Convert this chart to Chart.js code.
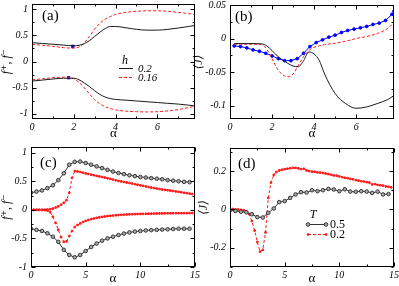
<!DOCTYPE html>
<html><head><meta charset="utf-8">
<script src="https://cdn.jsdelivr.net/npm/chart.js@4/dist/chart.umd.min.js"></script>
<style>
html,body{margin:0;padding:0;background:#fff;width:399px;height:286px;overflow:hidden}
canvas{position:absolute;left:0;top:0}
</style></head><body>
<canvas id="ca" width="399" height="286"></canvas>
<canvas id="cb" width="399" height="286"></canvas>
<canvas id="cc" width="399" height="286"></canvas>
<canvas id="cd" width="399" height="286"></canvas>
<script>
// ---------- Panel (a): f+, f- vs alpha ----------
const alphaA = [0, 0.5, 1, 1.5, 2, 2.25, 2.5, 2.75, 3, 3.25, 3.5, 3.75, 4, 4.5, 5, 5.5, 6, 6.5, 7, 7.5, 7.8];
const fPlusH02  = [0.36, 0.345, 0.33, 0.315, 0.30, 0.31, 0.34, 0.40, 0.48, 0.56, 0.63, 0.67, 0.67, 0.645, 0.615, 0.60, 0.60, 0.615, 0.64, 0.67, 0.69];
const fMinusH02 = [-0.375, -0.355, -0.335, -0.32, -0.32, -0.35, -0.41, -0.48, -0.56, -0.63, -0.68, -0.71, -0.725, -0.74, -0.755, -0.77, -0.785, -0.80, -0.815, -0.835, -0.85];
const fPlusH016  = [0.33, 0.31, 0.29, 0.265, 0.255, 0.28, 0.36, 0.48, 0.62, 0.73, 0.81, 0.86, 0.90, 0.94, 0.96, 0.97, 0.97, 0.96, 0.94, 0.915, 0.90];
const fMinusH016 = [-0.35, -0.33, -0.31, -0.30, -0.33, -0.40, -0.50, -0.62, -0.73, -0.81, -0.865, -0.90, -0.925, -0.95, -0.96, -0.965, -0.96, -0.945, -0.92, -0.88, -0.855];
const markAlphaA = [1.95, 1.75];
const markValA   = [0.29, -0.31];
const legendA = ['0.2', '0.16'];

// ---------- Panel (b): <J> vs alpha ----------
const alphaB = [0.2, 0.5, 1, 1.5, 1.75, 2, 2.25, 2.5, 2.75, 3, 3.25, 3.5, 3.75, 4, 4.25, 4.5, 5, 5.5, 6, 6.5, 7, 7.5, 7.8];
const jBlackB = [-0.0075, -0.0075, -0.0075, -0.008, -0.011, -0.018, -0.026, -0.032, -0.037, -0.041, -0.042, -0.033, -0.02, -0.023, -0.033, -0.053, -0.082, -0.097, -0.104, -0.102, -0.097, -0.091, -0.085];
const jRedB   = [-0.0085, -0.0085, -0.0085, -0.009, -0.016, -0.03, -0.045, -0.054, -0.057, -0.053, -0.04, -0.027, -0.018, -0.013, -0.011, -0.009, -0.007, -0.004, 0.0, 0.003, 0.0075, 0.015, 0.024];
const alphaBlueB = [0.2, 0.5, 0.8, 1.1, 1.4, 1.7, 2.0, 2.3, 2.6, 2.9, 3.2, 3.5, 3.8, 4.1, 4.4, 4.7, 5.0, 5.3, 5.6, 5.9, 6.2, 6.5, 6.8, 7.1, 7.4, 7.7, 7.8];
const jBlueB = [-0.011, -0.012, -0.014, -0.017, -0.019, -0.022, -0.026, -0.030, -0.033, -0.033, -0.030, -0.022, -0.012, -0.006, -0.002, 0.002, 0.005, 0.009, 0.012, 0.014, 0.016, 0.018, 0.021, 0.023, 0.027, 0.036, 0.041];

// ---------- Panel (c): f+, f- vs alpha (markers) ----------
const alphaBlackC = [0, 0.5, 1, 1.5, 2, 2.5, 3, 3.5, 4, 4.5, 5, 5.5, 6, 6.5, 7, 7.5, 8, 8.5, 9, 9.5, 10, 10.5, 11, 11.5, 12, 12.5, 13, 13.5, 14, 14.5];
const fPlusT05  = [0.30, 0.32, 0.34, 0.38, 0.43, 0.52, 0.64, 0.79, 0.84, 0.845, 0.82, 0.79, 0.76, 0.73, 0.70, 0.67, 0.645, 0.625, 0.605, 0.59, 0.575, 0.565, 0.555, 0.545, 0.535, 0.52, 0.51, 0.50, 0.49, 0.485];
const fMinusT05 = [-0.33, -0.35, -0.37, -0.41, -0.47, -0.56, -0.70, -0.79, -0.83, -0.79, -0.72, -0.65, -0.59, -0.54, -0.50, -0.47, -0.44, -0.415, -0.395, -0.38, -0.37, -0.36, -0.355, -0.35, -0.345, -0.34, -0.335, -0.33, -0.33, -0.33];
const alphaRedC = [0, 0.25, 0.5, 0.75, 1, 1.25, 1.5, 1.75, 2, 2.25, 2.5, 2.75, 3, 3.25, 3.5, 3.75, 4, 4.25, 4.5, 4.75, 5, 5.25, 5.5, 5.75, 6, 6.25, 6.5, 6.75, 7, 7.25, 7.5, 7.75, 8, 8.25, 8.5, 8.75, 9, 9.25, 9.5, 9.75, 10, 10.25, 10.5, 10.75, 11, 11.25, 11.5, 11.75, 12, 12.25, 12.5, 12.75, 13, 13.25, 13.5, 13.75, 14, 14.25, 14.5, 14.75];
const fPlusT02  = [0, 0, 0, 0, 0, 0, 0.005, 0.012, 0.022, 0.04, 0.062, 0.09, 0.125, 0.17, 0.30, 0.56, 0.68, 0.672, 0.662, 0.65, 0.638, 0.628, 0.617, 0.606, 0.595, 0.585, 0.575, 0.565, 0.553, 0.542, 0.53, 0.518, 0.506, 0.497, 0.488, 0.479, 0.47, 0.46, 0.45, 0.44, 0.43, 0.42, 0.41, 0.40, 0.39, 0.382, 0.373, 0.365, 0.356, 0.35, 0.343, 0.337, 0.33, 0.322, 0.315, 0.307, 0.30, 0.293, 0.285, 0.278];
const fMinusT02 = [0, 0, 0, 0, 0, -0.002, -0.01, -0.04, -0.12, -0.23, -0.35, -0.48, -0.56, -0.55, -0.46, -0.37, -0.30, -0.265, -0.237, -0.213, -0.193, -0.177, -0.163, -0.151, -0.14, -0.131, -0.123, -0.116, -0.11, -0.104, -0.099, -0.095, -0.091, -0.087, -0.084, -0.081, -0.079, -0.077, -0.075, -0.073, -0.071, -0.07, -0.068, -0.067, -0.066, -0.065, -0.064, -0.063, -0.062, -0.061, -0.06, -0.06, -0.059, -0.059, -0.058, -0.058, -0.057, -0.057, -0.057, -0.056];

// ---------- Panel (d): <J> vs alpha (markers) ----------
const alphaBlackD = [0, 0.5, 1, 1.5, 2, 2.5, 3, 3.5, 4, 4.5, 5, 5.5, 6, 6.5, 7, 7.5, 8, 8.5, 9, 9.5, 10, 10.5, 11, 11.5, 12, 12.5, 13, 13.5, 14, 14.5];
const jT05 = [-0.005, -0.008, -0.012, -0.015, -0.025, -0.04, -0.042, -0.018, 0.005, 0.038, 0.043, 0.06, 0.078, 0.09, 0.088, 0.10, 0.095, 0.10, 0.107, 0.104, 0.095, 0.105, 0.093, 0.092, 0.095, 0.093, 0.086, 0.093, 0.078, 0.08];
const alphaRedD = [0, 0.25, 0.5, 0.75, 1, 1.25, 1.5, 1.75, 2, 2.25, 2.5, 2.75, 3, 3.25, 3.5, 3.75, 4, 4.25, 4.5, 4.75, 5, 5.25, 5.5, 5.75, 6, 6.25, 6.5, 6.75, 7, 7.25, 7.5, 7.75, 8, 8.25, 8.5, 8.75, 9, 9.25, 9.5, 9.75, 10, 10.25, 10.5, 10.75, 11, 11.25, 11.5, 11.75, 12, 12.25, 12.5, 12.75, 13, 13.25, 13.5, 13.75, 14, 14.25, 14.5, 14.75];
const jT02 = [0.0, 0.002, 0.0, 0.0, -0.002, -0.004, -0.01, -0.025, -0.06, -0.11, -0.17, -0.22, -0.21, -0.12, 0.06, 0.14, 0.18, 0.195, 0.203, 0.207, 0.21, 0.212, 0.215, 0.217, 0.216, 0.214, 0.21, 0.212, 0.203, 0.20, 0.197, 0.196, 0.193, 0.192, 0.19, 0.187, 0.184, 0.181, 0.177, 0.176, 0.172, 0.168, 0.165, 0.163, 0.159, 0.157, 0.153, 0.15, 0.147, 0.145, 0.142, 0.14, 0.13, 0.132, 0.128, 0.126, 0.124, 0.12, 0.118, 0.115];
const legendD = ['0.5', '0.2'];

// ---------- tick labels ----------
const xTicksAB = [0, 2, 4, 6];
const xMinorAB = [1, 3, 5, 7];
const yTicksA = [-1, -0.5, 0, 0.5, 1];
const yMinorA = [-0.75, -0.25, 0.25, 0.75];
const yTicksB = [-0.1, -0.05, 0, 0.05];
const yMinorB = [-0.075, -0.025, 0.025];
const xTicksCD = [0, 5, 10, 15];
const xMinorCD = [2.5, 7.5, 12.5];
const yTicksC = [-1, -0.5, 0, 0.5, 1];
const yMinorC = [-0.75, -0.25, 0.25, 0.75];
const yTicksD = [-0.2, 0, 0.2];
const yMinorD = [-0.3, -0.1, 0.1, 0.3];

// ---------- helpers ----------
const SERIF = '"Liberation Serif", "DejaVu Serif", serif';
const BLACK = '#1a1a1a', RED = '#ff1a1a', BLUE = '#0000ff';
function pts(xs, ys) { return xs.map((x, i) => ({ x: x, y: ys[i] })); }

function decor(cfg) {
  return {
    id: 'decor',
    afterDraw(chart) {
      const ctx = chart.ctx, a = chart.chartArea, xs = chart.scales.x, ys = chart.scales.y;
      ctx.save();
      ctx.strokeStyle = '#000'; ctx.lineWidth = 1;
      const L = Math.round(a.left) + 0.5, R = Math.round(a.right) - 0.5, T = Math.round(a.top) + 0.5, B = Math.round(a.bottom) - 0.5;
      ctx.strokeRect(L, T, R - L, B - T);
      ctx.beginPath();
      const tx = (v, len) => { const p = Math.round(xs.getPixelForValue(v)) + 0.5; ctx.moveTo(p, B); ctx.lineTo(p, B - len); ctx.moveTo(p, T); ctx.lineTo(p, T + len); };
      const ty = (v, len) => { const p = Math.round(ys.getPixelForValue(v)) + 0.5; ctx.moveTo(L, p); ctx.lineTo(L + len, p); ctx.moveTo(R, p); ctx.lineTo(R - len, p); };
      cfg.xTicks.forEach(v => tx(v, 4)); cfg.xMinor.forEach(v => tx(v, 2));
      cfg.yTicks.forEach(v => ty(v, 4)); cfg.yMinor.forEach(v => ty(v, 2));
      ctx.stroke();
      ctx.fillStyle = '#000'; ctx.font = '15px ' + SERIF; ctx.textBaseline = 'middle'; ctx.textAlign = 'left';
      ctx.fillText(cfg.label, a.left + cfg.labelDx, a.top + cfg.labelDy);
      // rotated y-axis title
      ctx.save();
      ctx.translate(a.left - cfg.yTitleGap, (a.top + a.bottom) / 2);
      ctx.rotate(-Math.PI / 2);
      ctx.font = 'italic 12px ' + SERIF; ctx.textAlign = 'center'; ctx.textBaseline = 'middle';
      ctx.fillText(cfg.yTitle, 0, 0);
      ctx.restore();
      if (cfg.legend) cfg.legend(ctx, a);
      ctx.restore();
    }
  };
}

function makePanel(id, cfg) {
  return new Chart(document.getElementById(id), {
    type: 'line',
    data: { datasets: cfg.datasets },
    options: {
      responsive: false, animation: false, devicePixelRatio: 1,
      layout: { padding: cfg.pad },
      plugins: { legend: { display: false }, tooltip: { enabled: false } },
      elements: { line: { borderWidth: 1 } },
      scales: {
        x: {
          type: 'linear', min: cfg.xMin, max: cfg.xMax,
          grid: { display: false, drawTicks: false }, border: { display: false },
          ticks: { autoSkip: false, padding: 2, maxRotation: 0, color: '#000', font: { family: SERIF, size: 10, style: 'italic' }, callback: v => String(v) },
          afterBuildTicks: s => { s.ticks = cfg.xTicks.map(v => ({ value: v })); },
          afterFit: s => { s.height = cfg.xH; s.paddingLeft = 0; s.paddingRight = 0; },
          title: { display: true, text: 'α', color: '#000', padding: 0, font: { family: SERIF, size: 13 } }
        },
        y: {
          type: 'linear', min: cfg.yMin, max: cfg.yMax,
          grid: { display: false, drawTicks: false }, border: { display: false },
          ticks: { autoSkip: false, padding: 4, color: '#000', font: { family: SERIF, size: 10, style: 'italic' }, callback: v => String(v) },
          afterBuildTicks: s => { s.ticks = cfg.yTicks.map(v => ({ value: v })); },
          afterFit: s => { s.width = cfg.yW; s.paddingTop = 0; s.paddingBottom = 0; },
          title: { display: false }
        }
      }
    },
    plugins: [decor(cfg)]
  });
}

function smoothLine(xs, ys, color, dash) {
  return { data: pts(xs, ys), borderColor: color, borderWidth: 1, borderDash: dash || [], pointRadius: 0, cubicInterpolationMode: 'monotone', fill: false };
}
function markLine(xs, ys, color, dash, style, r, bg) {
  return { data: pts(xs, ys), borderColor: color, borderWidth: 1, borderDash: dash || [], pointRadius: r, pointStyle: style, pointBackgroundColor: bg, pointBorderColor: color, pointBorderWidth: 1, tension: 0, fill: false };
}

// ---------- Panel (a) ----------
makePanel('ca', {
  pad: { left: 0, top: 4, right: 204, bottom: 145 }, yW: 32, xH: 22, yTitleGap: 25,
  xMin: 0, xMax: 7.8, yMin: -1.1, yMax: 1.1,
  xTicks: xTicksAB, xMinor: xMinorAB, yTicks: yTicksA, yMinor: yMinorA,
  yTitle: 'f⁺, f⁻', label: '(a)', labelDx: 10, labelDy: 12,
  datasets: [
    smoothLine(alphaA, fPlusH02, BLACK),
    smoothLine(alphaA, fMinusH02, BLACK),
    smoothLine(alphaA, fPlusH016, RED, [3, 2]),
    smoothLine(alphaA, fMinusH016, RED, [3, 2]),
    { data: pts(markAlphaA, markValA), showLine: false, pointStyle: 'rect', pointRadius: 2.3, pointBorderWidth: 0, pointBackgroundColor: BLUE, pointBorderColor: BLUE, borderColor: BLUE, backgroundColor: BLUE }
  ],
  legend: (ctx, a) => {
    const x0 = a.left + 87, y0 = a.top + 57;
    ctx.font = 'italic 12px ' + SERIF; ctx.textAlign = 'center';
    ctx.fillText('h', x0 + 6, y0);
    ctx.lineWidth = 1;
    ctx.strokeStyle = BLACK; ctx.setLineDash([]);
    ctx.beginPath(); ctx.moveTo(x0, y0 + 7.5); ctx.lineTo(x0 + 14, y0 + 7.5); ctx.stroke();
    ctx.strokeStyle = RED; ctx.setLineDash([3, 2]);
    ctx.beginPath(); ctx.moveTo(x0, y0 + 16.5); ctx.lineTo(x0 + 14, y0 + 16.5); ctx.stroke();
    ctx.setLineDash([]);
    ctx.font = 'italic 11px ' + SERIF; ctx.textAlign = 'left';
    ctx.fillText(legendA[0], x0 + 19, y0 + 8);
    ctx.fillText(legendA[1], x0 + 19, y0 + 17);
  }
});

// ---------- Panel (b) ----------
makePanel('cb', {
  pad: { left: 192, top: 4, right: 5, bottom: 145 }, yW: 38, xH: 22, yTitleGap: 31,
  xMin: 0, xMax: 7.8, yMin: -0.12, yMax: 0.05,
  xTicks: xTicksAB, xMinor: xMinorAB, yTicks: yTicksB, yMinor: yMinorB,
  yTitle: '⟨J⟩', label: '(b)', labelDx: 5, labelDy: 12,
  datasets: [
    smoothLine(alphaB, jBlackB, BLACK),
    smoothLine(alphaB, jRedB, RED, [3, 2]),
    markLine(alphaBlueB, jBlueB, BLUE, [], 'circle', 1.4, BLUE)
  ]
});

// ---------- Panel (c) ----------
makePanel('cc', {
  pad: { left: 0, top: 147, right: 204, bottom: 0 }, yW: 31, xH: 19, yTitleGap: 24,
  xMin: 0, xMax: 15, yMin: -1, yMax: 1.1,
  xTicks: xTicksCD, xMinor: xMinorCD, yTicks: yTicksC, yMinor: yMinorC,
  yTitle: 'f⁺, f⁻', label: '(c)', labelDx: 9, labelDy: 16,
  datasets: [
    markLine(alphaBlackC, fPlusT05, '#333', [], 'circle', 1.8, '#aaa'),
    markLine(alphaBlackC, fMinusT05, '#333', [], 'circle', 1.8, '#aaa'),
    markLine(alphaRedC, fPlusT02, RED, [3, 2], 'rect', 1.1, RED),
    markLine(alphaRedC, fMinusT02, RED, [3, 2], 'rect', 1.1, RED)
  ]
});

// ---------- Panel (d) ----------
makePanel('cd', {
  pad: { left: 197, top: 148, right: 4, bottom: 0 }, yW: 33, xH: 19, yTitleGap: 26,
  xMin: 0, xMax: 15, yMin: -0.3, yMax: 0.32,
  xTicks: xTicksCD, xMinor: xMinorCD, yTicks: yTicksD, yMinor: yMinorD,
  yTitle: '⟨J⟩', label: '(d)', labelDx: 8, labelDy: 16,
  datasets: [
    markLine(alphaBlackD, jT05, '#333', [], 'circle', 1.8, '#aaa'),
    markLine(alphaRedD, jT02, RED, [3, 2], 'rect', 1.1, RED)
  ],
  legend: (ctx, a) => {
    const x0 = a.left + 78, y0 = a.top + 67;
    ctx.font = 'italic 12px ' + SERIF; ctx.textAlign = 'center';
    ctx.fillText('T', x0 + 5, y0);
    ctx.lineWidth = 1;
    ctx.strokeStyle = '#333'; ctx.setLineDash([]);
    ctx.beginPath(); ctx.moveTo(x0, y0 + 9.5); ctx.lineTo(x0 + 18, y0 + 9.5); ctx.stroke();
    ctx.fillStyle = '#aaa';
    [x0, x0 + 18].forEach(px => { ctx.beginPath(); ctx.arc(px, y0 + 9.5, 1.8, 0, Math.PI * 2); ctx.fill(); ctx.stroke(); });
    ctx.strokeStyle = RED; ctx.setLineDash([3, 2]);
    ctx.beginPath(); ctx.moveTo(x0, y0 + 19.5); ctx.lineTo(x0 + 18, y0 + 19.5); ctx.stroke();
    ctx.setLineDash([]); ctx.fillStyle = RED;
    [x0, x0 + 18].forEach(px => { ctx.fillRect(px - 1.2, y0 + 19.5 - 1.2, 2.4, 2.4); });
    ctx.fillStyle = '#000'; ctx.font = '12px ' + SERIF; ctx.textAlign = 'left';
    ctx.fillText(legendD[0], x0 + 22, y0 + 10);
    ctx.fillText(legendD[1], x0 + 22, y0 + 20);
  }
});
</script>
</body></html>
